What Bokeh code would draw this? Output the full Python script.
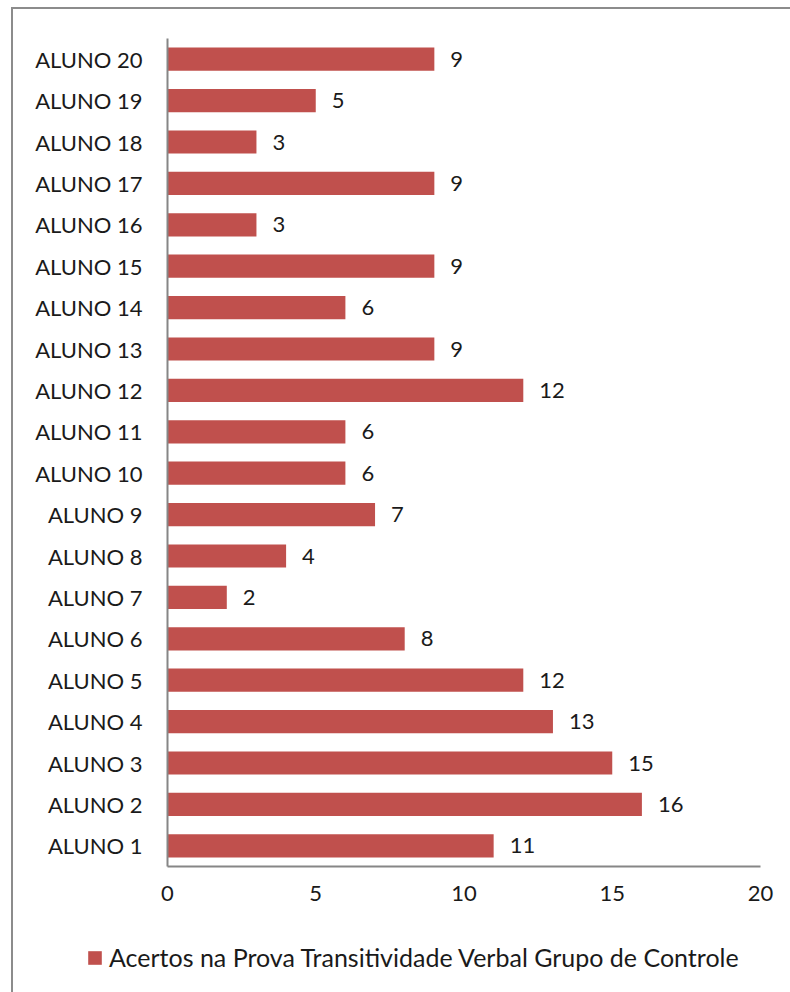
from bokeh.plotting import figure
from bokeh.layouts import column
from bokeh.models import (ColumnDataSource, LabelSet, Legend, LegendItem,
                          FactorRange)
from bokeh.core.properties import value
from bokeh.embed import file_html
from bokeh.resources import INLINE

# Scores per student (ALUNO 1 .. ALUNO 20)
students = [f"ALUNO {i}" for i in range(1, 21)]
scores = [11, 16, 15, 13, 12, 8, 2, 4, 7, 6, 6, 12, 9, 6, 9, 3, 9, 3, 5, 9]
series_name = "Acertos na Prova Transitividade Verbal Grupo de Controle"
x_ticks = [0, 5, 10, 15, 20]

FONT = "Lato"
FS = "22px"
LEGEND_FS = "25px"
BAR = "#C0504D"
AXIS = "#868686"
TEXT = "#1a1a1a"

W = 777

source = ColumnDataSource(dict(student=students, score=scores,
                               label=[str(s) for s in scores]))

# --- bar chart -------------------------------------------------------------
p = figure(width=W, height=916, output_backend="svg", toolbar_location=None,
           y_range=FactorRange(*students, range_padding=0),
           x_range=(0, 20),
           min_border_left=154, min_border_right=30,
           min_border_top=29, min_border_bottom=59)
p.outline_line_color = None
p.grid.visible = False
p.background_fill_color = "white"
p.border_fill_color = "white"

bars = p.hbar(y="student", right="score", left=0, height=0.56, source=source,
              fill_color=BAR, line_color=None)

# value labels to the right of each bar
labels = LabelSet(x="score", y="student", text="label", source=source,
                  x_offset=16, text_baseline="middle", text_align="left",
                  text_font=value(FONT), text_font_size=value(FS),
                  text_color=TEXT)
p.add_layout(labels)

p.xaxis.ticker = x_ticks
p.xaxis.axis_line_color = AXIS
p.xaxis.axis_line_width = 2
p.xaxis.major_tick_line_color = None
p.xaxis.minor_tick_line_color = None
p.xaxis.major_tick_out = 0
p.xaxis.major_tick_in = 0
p.xaxis.major_label_standoff = 19
p.xaxis.major_label_text_font = FONT
p.xaxis.major_label_text_font_size = FS
p.xaxis.major_label_text_color = TEXT

p.yaxis.axis_line_color = AXIS
p.yaxis.axis_line_width = 2
p.yaxis.major_tick_line_color = None
p.yaxis.major_tick_out = 0
p.yaxis.major_tick_in = 0
p.yaxis.major_label_standoff = 25
p.yaxis.major_label_text_font = FONT
p.yaxis.major_label_text_font_size = FS
p.yaxis.major_label_text_color = TEXT

# --- legend strip ----------------------------------------------------------
lg = figure(width=W, height=67, output_backend="svg", toolbar_location=None,
            x_range=(0, 1), y_range=(0, 1), frame_align=False,
            min_border=0, min_border_left=0, min_border_right=0,
            min_border_top=0, min_border_bottom=0,
            x_axis_location=None, y_axis_location=None)
lg.outline_line_color = None
lg.grid.visible = False
lg.border_fill_color = "white"
lg.background_fill_color = "white"
# same series drawn hidden here, only so the legend has a swatch to show
swatch = lg.hbar(y=0, right="score", left=0, height=1, source=source,
                 fill_color=BAR, line_color=None, visible=False)

legend = Legend(items=[LegendItem(label=series_name, renderers=[swatch])],
                location=(73, 20), orientation="horizontal",
                glyph_width=17, glyph_height=17, label_standoff=6,
                label_height=24,
                padding=0, margin=0, border_line_color=None,
                background_fill_alpha=0,
                inactive_fill_alpha=0,
                label_text_font=FONT, label_text_font_size=LEGEND_FS,
                label_text_color=TEXT)
lg.add_layout(legend)

layout = column(p, lg, spacing=0,
                styles={"margin-left": "11px", "margin-top": "7px",
                        "border-left": "2px solid #8c8c8c",
                        "border-top": "2px solid #8c8c8c"})

open("out.html", "w").write(file_html(layout, INLINE))
